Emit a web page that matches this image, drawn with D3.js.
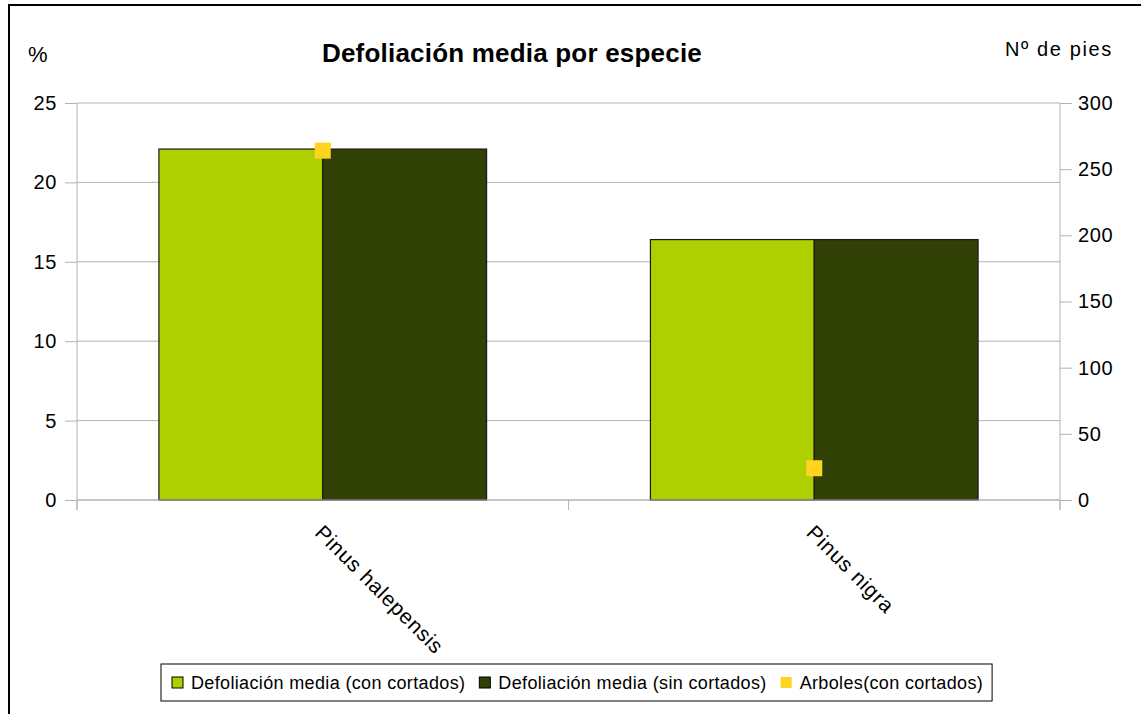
<!DOCTYPE html>
<html>
<head>
<meta charset="utf-8">
<script src="https://cdn.jsdelivr.net/npm/d3@7/dist/d3.min.js"></script>
<style>
  html, body { margin: 0; padding: 0; background: #fff; }
  svg { display: block; font-family: "Liberation Sans", Arial, sans-serif; }
</style>
</head>
<body>
<svg id="chart" width="1141" height="714"></svg>
<script>
// Species and their values
const species = ["Pinus halepensis", "Pinus nigra"];
const defolConCortados = [22.1, 16.4];   // %
const defolSinCortados = [22.1, 16.4];   // %
const arbolesConCortados = [264, 24];    // nº de pies
const leftTicks = [0, 5, 10, 15, 20, 25];
const rightTicks = [0, 50, 100, 150, 200, 250, 300];
const seriesNames = ["Defoliación media (con cortados)", "Defoliación media (sin cortados)", "Arboles(con cortados)"];
const colors = ["#aecf00", "#314004", "#ffd320"];

const svg = d3.select("#chart");
const plot = { left: 77, right: 1060, top: 103, bottom: 500 };

// Outer frame
svg.append("rect").attr("x", 9).attr("y", 5).attr("width", 1140).attr("height", 720)
  .attr("fill", "none").attr("stroke", "#000").attr("stroke-width", 2);

const x = d3.scaleBand().domain(species).range([plot.left, plot.right]);
const inner = d3.scaleBand().domain([0, 1]).range([0, x.bandwidth()]).paddingOuter(0.5).paddingInner(0);
const yL = d3.scaleLinear().domain([0, 25]).range([plot.bottom, plot.top]);
const yR = d3.scaleLinear().domain([0, 300]).range([plot.bottom, plot.top]);

// Gridlines
svg.append("g").selectAll("line").data(leftTicks).join("line")
  .attr("x1", plot.left).attr("x2", plot.right)
  .attr("y1", d => yL(d)).attr("y2", d => yL(d))
  .attr("stroke", "#b3b3b3").attr("stroke-width", 1);

// Left and right value axes
const gl = svg.append("g").attr("transform", `translate(${plot.left},0)`)
  .call(d3.axisLeft(yL).tickValues(leftTicks).tickSize(12).tickPadding(8));
const gr = svg.append("g").attr("transform", `translate(${plot.right},0)`)
  .call(d3.axisRight(yR).tickValues(rightTicks).tickSize(12).tickPadding(6));
[gl, gr].forEach(g => {
  g.select(".domain").remove();
  g.selectAll("line").attr("stroke", "#b3b3b3");
  g.selectAll("text").attr("font-size", 20).attr("fill", "#000")
    .attr("letter-spacing", 0.6)
    .attr("font-family", "Liberation Sans, Arial, sans-serif");
});
// vertical axis lines, extended below the baseline
[plot.left, plot.right].forEach(px => {
  svg.append("line").attr("x1", px).attr("x2", px).attr("y1", plot.top).attr("y2", plot.bottom + 10)
    .attr("stroke", "#b3b3b3");
});

// Category separators on the x axis
const catEdges = [plot.left, plot.left + x.bandwidth(), plot.right];
svg.append("g").selectAll("line").data(catEdges).join("line")
  .attr("x1", d => d).attr("x2", d => d).attr("y1", plot.bottom).attr("y2", plot.bottom + 10)
  .attr("stroke", "#b3b3b3");

// Bars
const barData = [];
species.forEach((s, i) => {
  barData.push({ s, k: 0, v: defolConCortados[i] });
  barData.push({ s, k: 1, v: defolSinCortados[i] });
});
svg.append("g").selectAll("rect").data(barData).join("rect")
  .attr("x", d => x(d.s) + inner(d.k))
  .attr("width", inner.bandwidth())
  .attr("y", d => yL(d.v))
  .attr("height", d => yL(0) - yL(d.v))
  .attr("fill", d => colors[d.k])
  .attr("stroke", "#1a1a1a").attr("stroke-width", 1.2);

// Baseline
svg.append("line").attr("x1", plot.left).attr("x2", plot.right)
  .attr("y1", plot.bottom).attr("y2", plot.bottom).attr("stroke", "#b3b3b3");

// Tree count markers (right axis)
const ms = 16;
svg.append("g").selectAll("rect").data(species).join("rect")
  .attr("x", (s) => x(s) + x.bandwidth() / 2 - ms / 2)
  .attr("y", (s, i) => yR(arbolesConCortados[i]) - ms / 2)
  .attr("width", ms).attr("height", ms)
  .attr("fill", colors[2]);

// Rotated category labels
svg.append("g").selectAll("text").data(species).join("text")
  .attr("transform", s => `translate(${x(s) + x.bandwidth() / 2 - 9},${plot.bottom + 34}) rotate(45)`)
  .attr("font-size", 21).attr("letter-spacing", 0.8).attr("fill", "#000")
  .text(s => s);

// Titles
svg.append("text").attr("x", 512).attr("y", 62).attr("text-anchor", "middle")
  .attr("font-size", 26).attr("font-weight", "bold").attr("letter-spacing", 0.2)
  .text("Defoliación media por especie");
svg.append("text").attr("x", 28).attr("y", 62).attr("font-size", 22).text("%");
svg.append("text").attr("x", 1005).attr("y", 56).attr("font-size", 20)
  .attr("letter-spacing", 1.6).text("Nº de pies");

// Legend, laid out from the measured text widths
const lg = svg.append("g");
const box = lg.append("rect").attr("y", 664).attr("height", 37)
  .attr("fill", "#fff").attr("stroke", "#000").attr("stroke-width", 1);
let cx = 172;
seriesNames.forEach((n, i) => {
  lg.append("rect").attr("x", cx).attr("y", 677).attr("width", 11).attr("height", 11)
    .attr("fill", colors[i]).attr("stroke", i < 2 ? "#000" : "none").attr("stroke-width", 1);
  const t = lg.append("text").attr("x", cx + 19).attr("y", 689).attr("font-size", 18)
    .attr("letter-spacing", 0.35).text(n);
  cx = cx + 19 + t.node().getComputedTextLength() + 14;
});
box.attr("x", 161).attr("width", cx - 14 + 9 - 161);
</script>
</body>
</html>
